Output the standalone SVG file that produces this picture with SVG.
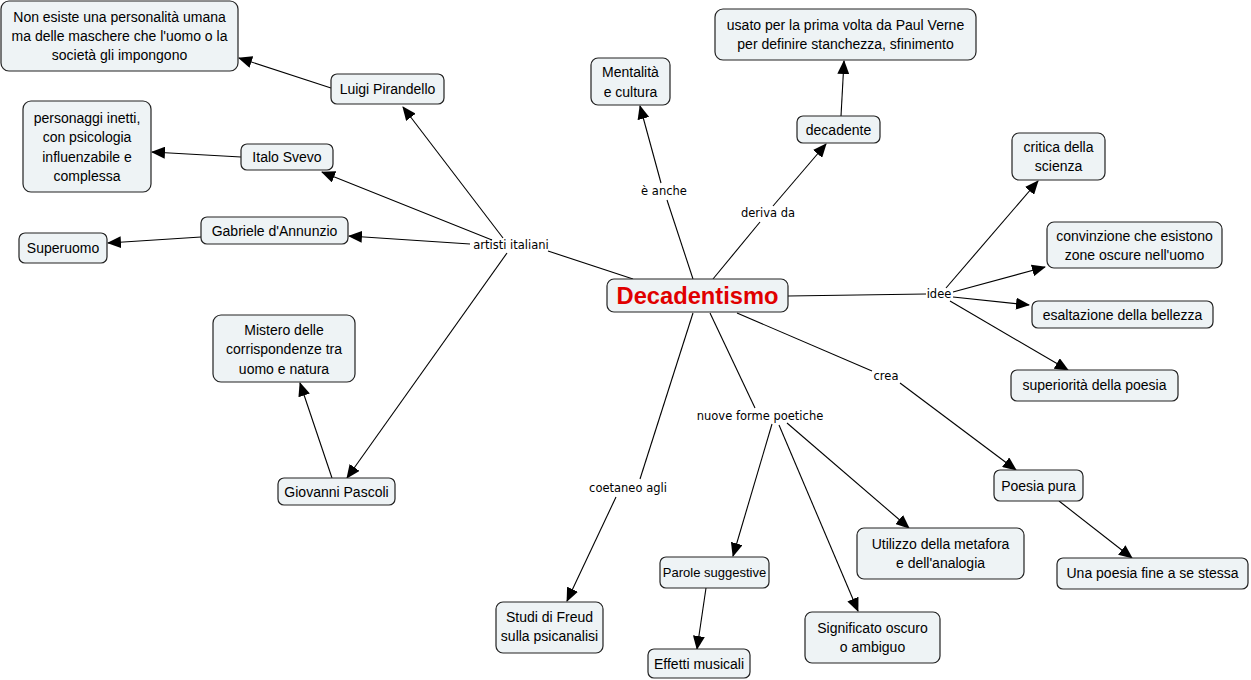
<svg xmlns="http://www.w3.org/2000/svg" width="1251" height="680" viewBox="0 0 1251 680">
<style>
.n rect{fill:#EEF3F5;stroke:#222;stroke-width:1.2}
.n text{font-family:"Liberation Sans",Arial,sans-serif;font-size:14px;fill:#000;text-anchor:middle}
.lbl{font-family:"DejaVu Sans",Verdana,sans-serif;font-size:11.5px;fill:#000;text-anchor:middle}
#connectors line{stroke:#000;stroke-width:1.1;fill:none}
.a{marker-end:url(#arr)}
</style>
<defs>
<marker id="arr" markerUnits="userSpaceOnUse" markerWidth="14" markerHeight="12" viewBox="0 0 14 12" refX="13" refY="6" orient="auto">
<path d="M0,0 L14,6 L0,12 Z" fill="#000"/>
</marker>
</defs>
<rect width="1251" height="680" fill="#fff"/>
<g id="connectors">
<line x1="633" y1="279" x2="548" y2="251"/>
<line class="a" x1="503" y1="238" x2="403" y2="107"/>
<line class="a" x1="492" y1="240" x2="322" y2="172"/>
<line class="a" x1="470" y1="244" x2="349" y2="236"/>
<line class="a" x1="507" y1="253" x2="347" y2="478"/>
<line class="a" x1="331" y1="88" x2="239" y2="58"/>
<line class="a" x1="241" y1="157" x2="152" y2="152"/>
<line class="a" x1="201" y1="237" x2="108" y2="243"/>
<line class="a" x1="332" y1="478" x2="300" y2="383"/>
<line x1="693" y1="279" x2="667" y2="200"/>
<line class="a" x1="661" y1="183" x2="640" y2="106"/>
<line x1="713" y1="279" x2="760" y2="222"/>
<line class="a" x1="773" y1="206" x2="826" y2="144"/>
<line class="a" x1="841" y1="116" x2="844" y2="61"/>
<line x1="788" y1="296" x2="926" y2="294"/>
<line class="a" x1="946" y1="288" x2="1038" y2="181"/>
<line class="a" x1="953" y1="292" x2="1045" y2="267"/>
<line class="a" x1="953" y1="297" x2="1029" y2="305"/>
<line class="a" x1="950" y1="301" x2="1068" y2="370"/>
<line x1="737" y1="313" x2="872" y2="371"/>
<line class="a" x1="900" y1="383" x2="1016" y2="470"/>
<line x1="710" y1="313" x2="755" y2="408"/>
<line class="a" x1="772" y1="424" x2="733" y2="556"/>
<line class="a" x1="779" y1="425" x2="858" y2="611"/>
<line class="a" x1="787" y1="423" x2="909" y2="528"/>
<line class="a" x1="706" y1="588" x2="697" y2="649"/>
<line x1="693" y1="313" x2="640" y2="479"/>
<line class="a" x1="616" y1="497" x2="567" y2="601"/>
<line class="a" x1="1059" y1="501" x2="1132" y2="558"/>
<text class="lbl" x="511" y="249">artisti italiani</text>
<text class="lbl" x="664" y="195">è anche</text>
<text class="lbl" x="768" y="217">deriva da</text>
<text class="lbl" x="939" y="298">idee</text>
<text class="lbl" x="886" y="380">crea</text>
<text class="lbl" x="760" y="420">nuove forme poetiche</text>
<text class="lbl" x="628" y="492">coetaneo agli</text>
</g>
<g id="n-decadentismo" class="n"><rect x="607" y="279" width="181" height="33" rx="7"/><text x="697.5" y="304" style="font-weight:bold;font-size:23.7px;fill:#E00000">Decadentismo</text></g>
<g id="n-nonesiste" class="n"><rect x="1" y="1" width="237" height="70" rx="8"/><text x="119.5" y="22">Non esiste una personalità umana</text><text x="119.5" y="41">ma delle maschere che l'uomo o la</text><text x="119.5" y="60">società gli impongono</text></g>
<g id="n-pirandello" class="n"><rect x="331" y="74" width="113" height="30" rx="6"/><text x="387.5" y="94">Luigi Pirandello</text></g>
<g id="n-personaggi" class="n"><rect x="23" y="101" width="128" height="91" rx="8"/><text x="87" y="123">personaggi inetti,</text><text x="87" y="142">con psicologia</text><text x="87" y="162">influenzabile e</text><text x="87" y="181">complessa</text></g>
<g id="n-svevo" class="n"><rect x="241" y="144" width="92" height="26" rx="6"/><text x="287" y="162">Italo Svevo</text></g>
<g id="n-dannunzio" class="n"><rect x="201" y="217" width="147" height="27" rx="6"/><text x="274.5" y="236">Gabriele d'Annunzio</text></g>
<g id="n-superuomo" class="n"><rect x="19" y="233" width="88" height="30" rx="6"/><text x="63" y="253">Superuomo</text></g>
<g id="n-mistero" class="n"><rect x="213" y="315" width="142" height="67" rx="8"/><text x="284" y="335">Mistero delle</text><text x="284" y="354">corrispondenze tra</text><text x="284" y="374">uomo e natura</text></g>
<g id="n-pascoli" class="n"><rect x="278" y="478" width="117" height="27" rx="6"/><text x="336.5" y="497">Giovanni Pascoli</text></g>
<g id="n-mentalita" class="n"><rect x="591" y="58" width="79" height="47" rx="7"/><text x="630.5" y="77">Mentalità</text><text x="630.5" y="97">e cultura</text></g>
<g id="n-usato" class="n"><rect x="715" y="9" width="261" height="51" rx="8"/><text x="845.5" y="30">usato per la prima volta da Paul Verne</text><text x="845.5" y="49">per definire stanchezza, sfinimento</text></g>
<g id="n-decadente" class="n"><rect x="797" y="116" width="83" height="27" rx="6"/><text x="838.5" y="135">decadente</text></g>
<g id="n-critica" class="n"><rect x="1012" y="133" width="93" height="47" rx="7"/><text x="1058.5" y="152">critica della</text><text x="1058.5" y="171">scienza</text></g>
<g id="n-convinzione" class="n"><rect x="1047" y="222" width="175" height="46" rx="7"/><text x="1134.5" y="241">convinzione che esistono</text><text x="1134.5" y="260">zone oscure nell'uomo</text></g>
<g id="n-esaltazione" class="n"><rect x="1032" y="301" width="181" height="27" rx="6"/><text x="1122.5" y="320">esaltazione della bellezza</text></g>
<g id="n-superiorita" class="n"><rect x="1011" y="370" width="167" height="31" rx="6"/><text x="1094.5" y="390">superiorità della poesia</text></g>
<g id="n-poesiapura" class="n"><rect x="994" y="470" width="89" height="31" rx="6"/><text x="1038.5" y="491">Poesia pura</text></g>
<g id="n-unapoesia" class="n"><rect x="1057" y="558" width="191" height="31" rx="6"/><text x="1152.5" y="578">Una poesia fine a se stessa</text></g>
<g id="n-utilizzo" class="n"><rect x="857" y="528" width="167" height="51" rx="7"/><text x="940.5" y="549">Utilizzo della metafora</text><text x="940.5" y="568">e dell'analogia</text></g>
<g id="n-significato" class="n"><rect x="805" y="612" width="135" height="51" rx="7"/><text x="872.5" y="633">Significato oscuro</text><text x="872.5" y="652">o ambiguo</text></g>
<g id="n-parole" class="n"><rect x="660" y="557" width="109" height="31" rx="6"/><text x="714.5" y="577" style="font-size:13px">Parole suggestive</text></g>
<g id="n-effetti" class="n"><rect x="648" y="649" width="102" height="29" rx="6"/><text x="699" y="669">Effetti musicali</text></g>
<g id="n-studi" class="n"><rect x="496" y="602" width="107" height="51" rx="7"/><text x="549.5" y="622">Studi di Freud</text><text x="549.5" y="641">sulla psicanalisi</text></g>
</svg>
